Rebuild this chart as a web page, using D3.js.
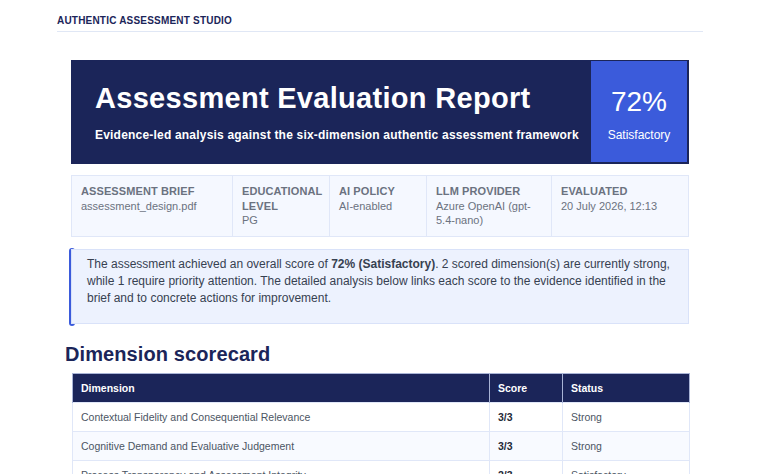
<!DOCTYPE html>
<html><head><meta charset="utf-8">
<script src="https://cdn.jsdelivr.net/npm/d3@7"></script>
<style>
html,body{margin:0;padding:0;background:#fff;width:760px;height:474px;overflow:hidden;font-family:"Liberation Sans",Arial,sans-serif}
#page{position:relative;width:760px;height:474px;overflow:hidden}
.brand{position:absolute;left:57px;top:15px;width:646px;height:16px;border-bottom:1px solid #e0e7f5;font-size:10px;font-weight:700;color:#1b2559;letter-spacing:.2px;line-height:12px}
.hero{position:absolute;left:71px;top:60px;width:618px;height:104px;box-sizing:border-box;background:#1b2559;border:1px solid #1b2559;color:#fff}
.hero h1{position:absolute;left:23px;top:20px;margin:0;font-size:29px;line-height:35px;font-weight:700;letter-spacing:.3px;white-space:nowrap}
.hero p{position:absolute;left:23px;top:67px;margin:0;font-size:12px;line-height:15px;font-weight:700;letter-spacing:.2px;white-space:nowrap}
.score{position:absolute;left:519px;top:0;width:96px;height:101px;background:#3b5bdb;text-align:center}
.score b{position:absolute;left:0;right:0;top:25px;font-size:28px;line-height:32px;font-weight:400}
.score span{position:absolute;left:0;right:0;top:67px;font-size:12px;line-height:15px}
.meta{position:absolute;left:71px;top:175px;width:618px;height:62px;box-sizing:border-box;border:1px solid #e0e7f8;background:#f5f8ff;display:flex}
.meta div{box-sizing:border-box;padding:8px 9px;font-size:11px;line-height:14.7px;color:#6b7280;border-right:1px solid #e0e7f8}
.meta div:last-child{border-right:0}
.meta strong{display:block;letter-spacing:.1px}
.summary{position:absolute;left:71px;top:249px;width:618px;height:75px;box-sizing:border-box;background:#edf2fe;border:1px solid #d9e2f9;padding:5.5px 15px;font-size:12px;line-height:17px;color:#374151}
.bar{position:absolute;left:69px;top:247.5px;width:6px;height:78px;background:#3b5bdb;border-radius:3px}
h2{position:absolute;left:65px;top:342px;margin:0;font-size:20px;line-height:24px;color:#1b2559;font-weight:700;letter-spacing:.1px}
table{position:absolute;left:72px;top:373px;width:617px;border-collapse:collapse;table-layout:fixed;font-size:10.5px}
th{background:#1b2559;color:#fff;text-align:left;font-weight:700;height:28px;padding:0 8px;border:1px solid #a9b4d6;border-bottom:0}
td{height:28px;padding:0 8px;color:#4b5563;border:1px solid #e0e7f8}
tr:nth-child(even) td{background:#f8faff}
td.s{font-weight:700;color:#1f2937}
</style></head><body><div id="page"></div>
<script>
const brandName = "AUTHENTIC ASSESSMENT STUDIO";
const reportTitle = "Assessment Evaluation Report";
const reportSubtitle = "Evidence-led analysis against the six-dimension authentic assessment framework";
const overallScore = "72%";
const overallBand = "Satisfactory";
const metaLabels = ["ASSESSMENT BRIEF","EDUCATIONAL LEVEL","AI POLICY","LLM PROVIDER","EVALUATED"];
const metaValues = ["assessment_design.pdf","PG","AI-enabled","Azure OpenAI (gpt-5.4-nano)","20 July 2026, 12:13"];
const metaWidths = [161,97,97,125,136];
const tableHeaders = ["Dimension","Score","Status"];
const dimensions = ["Contextual Fidelity and Consequential Relevance","Cognitive Demand and Evaluative Judgement","Process Transparency and Assessment Integrity"];
const scores = ["3/3","3/3","2/3"];
const statuses = ["Strong","Strong","Satisfactory"];
const columnWidths = [417,73,127];

const page = d3.select("#page");
page.append("div").attr("class","brand").text(brandName);
const hero = page.append("div").attr("class","hero");
hero.append("h1").text(reportTitle);
hero.append("p").text(reportSubtitle);
const sc = hero.append("div").attr("class","score");
sc.append("b").text(overallScore);
sc.append("span").text(overallBand);
const cells = page.append("div").attr("class","meta").selectAll("div").data(metaLabels).join("div")
  .style("width",(d,i)=>metaWidths[i]+"px");
cells.append("strong").text(d=>d);
cells.append("span").text((d,i)=>metaValues[i]);
page.append("div").attr("class","bar");
page.append("div").attr("class","summary").html('The assessment achieved an overall score of <b>72% (Satisfactory)</b>. 2 scored dimension(s) are currently strong, while 1 require priority attention. The detailed analysis below links each score to the evidence identified in the brief and to concrete actions for improvement.');
page.append("h2").text("Dimension scorecard");
const t = page.append("table");
t.append("colgroup").selectAll("col").data(columnWidths).join("col").style("width",d=>d+"px");
t.append("thead").append("tr").selectAll("th").data(tableHeaders).join("th").text(d=>d);
const rows = t.append("tbody").selectAll("tr").data(dimensions).join("tr");
rows.append("td").text(d=>d);
rows.append("td").attr("class","s").text((d,i)=>scores[i]);
rows.append("td").text((d,i)=>statuses[i]);
</script></body></html>
